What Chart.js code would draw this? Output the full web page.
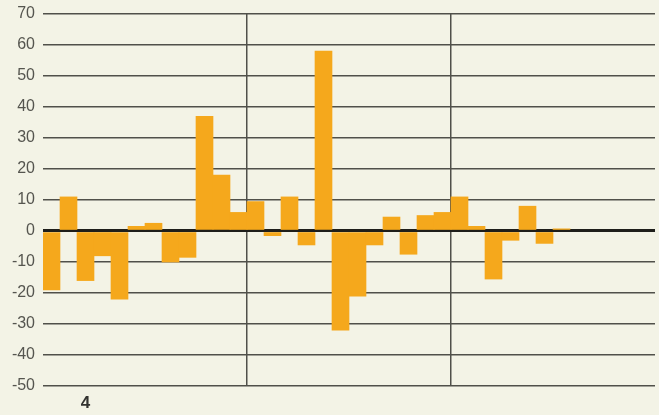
<!DOCTYPE html>
<html>
<head>
<meta charset="utf-8">
<script src="https://cdn.jsdelivr.net/npm/chart.js@4"></script>
<style>
    html, body { margin: 0; padding: 0; background: #f3f3e6; }
    #wrap { width: 659px; height: 415px; position: relative; }
</style>
</head>
<body>
<div id="wrap"><canvas id="chart"></canvas></div>
<script>
// 36 periods, three blocks of 12; only one category label is printed
const categories = [
    '', '', '4', '', '', '', '', '', '', '', '', '',
    '', '', '', '', '', '', '', '', '', '', '', '',
    '', '', '', '', '', '', '', '', '', '', '', '',
];

const values = [
    -19, 11, -16, -8, -22, 1.5, 2.5, -10, -8.5, 37, 18, 6,
    9.5, -1.5, 11, -4.5, 58, -32, -21, -4.5, 4.5, -7.5, 5, 6,
    11, 1.5, -15.5, -3, 8, -4, 0.7, null, null, null, null, null,
];

const yTicks = { min: -50, max: 70, step: 10 };
const blockStarts = [12, 24];

const colors = {
    bar: '#f5a81c',
    grid: '#50504a',
    zero: '#1e1e1a',
    text: '#55554f',
    label: '#333330',
};

new Chart(document.getElementById('chart'), {
    type: 'bar',
    data: {
        labels: categories,
        datasets: [
            {
                data: values,
                backgroundColor: colors.bar,
                borderWidth: 0,
                barPercentage: 1,
                categoryPercentage: 1,
            },
        ],
    },
    options: {
        responsive: true,
        maintainAspectRatio: false,
        animation: false,
        layout: { padding: { top: 14, right: 4, left: 0, bottom: 0 } },
        plugins: {
            legend: { display: false },
            tooltip: { enabled: false },
        },
        scales: {
            x: {
                offset: true,
                border: { display: false },
                grid: {
                    offset: true,
                    drawTicks: false,
                    lineWidth: 1.5,
                    color: (ctx) => (blockStarts.includes(ctx.index) ? colors.grid : 'transparent'),
                },
                ticks: {
                    autoSkip: false,
                    maxRotation: 0,
                    padding: 7,
                    color: colors.label,
                    font: { family: 'Liberation Sans, Arial, sans-serif', size: 17, weight: 'bold' },
                },
                afterFit: (scale) => { scale.height = 29; },
            },
            y: {
                min: yTicks.min,
                max: yTicks.max,
                border: { display: false },
                grid: {
                    drawTicks: false,
                    color: (ctx) => (ctx.tick && ctx.tick.value === 0 ? colors.zero : colors.grid),
                    lineWidth: (ctx) => (ctx.tick && ctx.tick.value === 0 ? 3 : 1.5),
                },
                ticks: {
                    stepSize: yTicks.step,
                    padding: 8,
                    color: colors.text,
                    font: { family: 'Liberation Sans, Arial, sans-serif', size: 16 },
                },
                afterFit: (scale) => {
                    scale.width = 43;
                    scale.paddingTop = 0;
                    scale.paddingBottom = 0;
                },
            },
        },
    },
});
</script>
</body>
</html>
